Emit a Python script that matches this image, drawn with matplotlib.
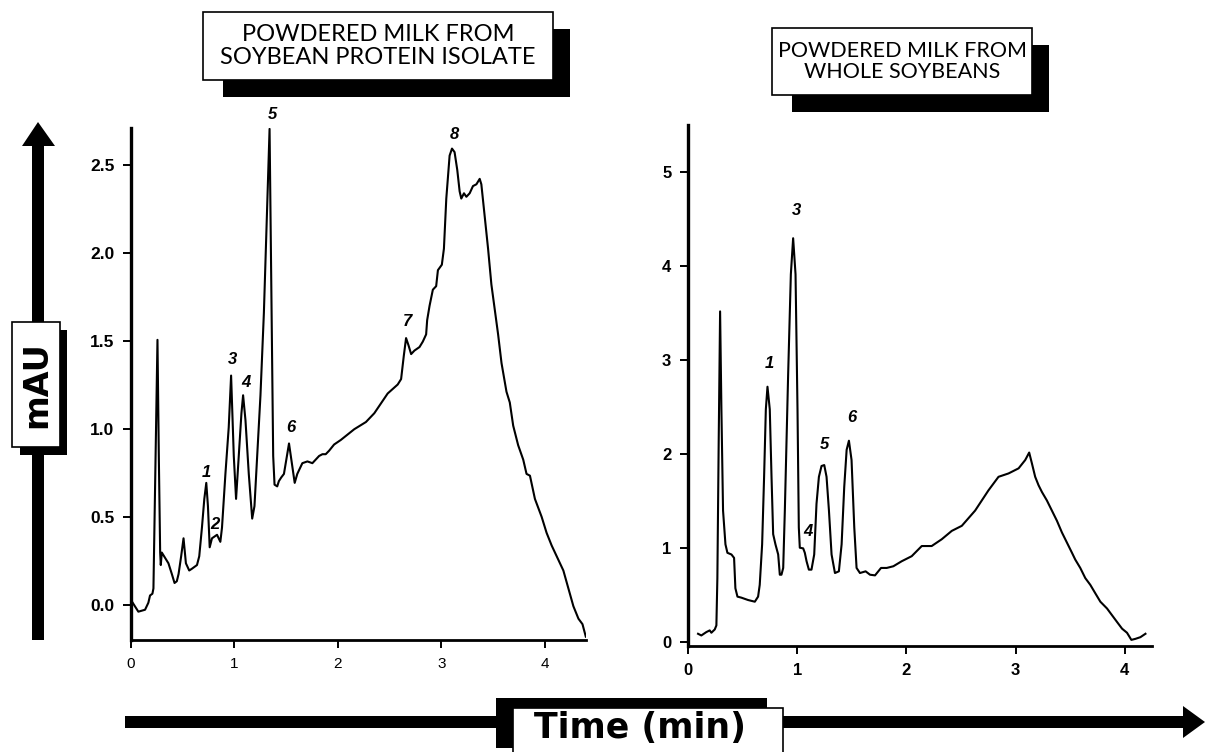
import matplotlib

matplotlib.use("Agg")
import matplotlib.pyplot as plt
from matplotlib.patches import Polygon, Rectangle

W, H = 1205, 752

# left chromatogram: powdered milk from soybean protein isolate
left_t = [0.016, 0.071, 0.136, 0.168, 0.184, 0.207, 0.217, 0.256, 0.269, 0.282, 0.288, 0.298,
          0.330, 0.362, 0.395, 0.421, 0.443, 0.460, 0.485, 0.508, 0.531, 0.563, 0.589, 0.638,
          0.660, 0.686, 0.709, 0.728, 0.744, 0.761, 0.783, 0.832, 0.864, 0.880, 0.913, 0.945,
          0.968, 0.994, 1.016, 1.042, 1.068, 1.084, 1.107, 1.139, 1.172, 1.194, 1.220, 1.252,
          1.285, 1.317, 1.340, 1.356, 1.375, 1.388, 1.414, 1.430, 1.453, 1.479, 1.502, 1.528,
          1.560, 1.583, 1.608, 1.657, 1.706, 1.754, 1.786, 1.819, 1.851, 1.883, 1.916, 1.964,
          2.029, 2.159, 2.272, 2.353, 2.482, 2.579, 2.612, 2.638, 2.660, 2.683, 2.709, 2.741,
          2.790, 2.822, 2.854, 2.864, 2.887, 2.919, 2.951, 2.968, 3.006, 3.026, 3.049, 3.081,
          3.104, 3.129, 3.155, 3.178, 3.194, 3.220, 3.243, 3.275, 3.307, 3.340, 3.372, 3.388,
          3.421, 3.453, 3.485, 3.518, 3.550, 3.583, 3.631, 3.663, 3.696, 3.744, 3.793, 3.825,
          3.858, 3.906, 3.971, 4.019, 4.068, 4.133, 4.181, 4.230, 4.278, 4.327, 4.366, 4.398]
left_y = [0.012, -0.039, -0.028, 0.012, 0.053, 0.063, 0.093, 1.506, 0.846, 0.297, 0.226, 0.297,
          0.266, 0.236, 0.175, 0.124, 0.134, 0.175, 0.276, 0.378, 0.236, 0.195, 0.205, 0.226,
          0.276, 0.439, 0.602, 0.693, 0.561, 0.327, 0.378, 0.398, 0.358, 0.439, 0.744, 1.008,
          1.303, 0.846, 0.602, 0.846, 1.089, 1.191, 1.049, 0.744, 0.490, 0.561, 0.846, 1.191,
          1.659, 2.268, 2.705, 1.862, 0.846, 0.683, 0.673, 0.703, 0.724, 0.744, 0.825, 0.917,
          0.785, 0.693, 0.744, 0.805, 0.815, 0.805, 0.825, 0.846, 0.856, 0.856, 0.876, 0.911,
          0.937, 0.998, 1.039, 1.089, 1.201, 1.252, 1.283, 1.415, 1.516, 1.476, 1.425, 1.445,
          1.465, 1.496, 1.537, 1.618, 1.699, 1.791, 1.811, 1.902, 1.933, 2.024, 2.309, 2.553,
          2.593, 2.573, 2.472, 2.350, 2.309, 2.339, 2.319, 2.339, 2.380, 2.390, 2.421, 2.390,
          2.207, 2.024, 1.821, 1.679, 1.537, 1.374, 1.211, 1.150, 1.018, 0.907, 0.825, 0.744,
          0.734, 0.602, 0.500, 0.409, 0.337, 0.256, 0.195, 0.093, -0.008, -0.079, -0.110, -0.181]
left_peaks = ["1", "2", "3", "4", "5", "6", "7", "8"]
left_peak_t = [0.728, 0.816, 0.977, 1.107, 1.366, 1.544, 2.676, 3.129]
left_peak_y = [0.754, 0.459, 1.394, 1.262, 2.787, 1.008, 1.608, 2.675]
left_yticks = [0.0, 0.5, 1.0, 1.5, 2.0, 2.5]

# right chromatogram: powdered milk from whole soybeans
right_t = [0.092, 0.122, 0.168, 0.199, 0.214, 0.245, 0.260, 0.269, 0.281, 0.294, 0.306, 0.321,
           0.343, 0.361, 0.398, 0.422, 0.434, 0.453, 0.489, 0.550, 0.612, 0.642, 0.657, 0.679,
           0.697, 0.713, 0.728, 0.749, 0.765, 0.780, 0.801, 0.826, 0.841, 0.856, 0.872, 0.887,
           0.917, 0.942, 0.963, 0.985, 1.003, 1.015, 1.024, 1.055, 1.070, 1.086, 1.107, 1.131,
           1.156, 1.177, 1.199, 1.223, 1.248, 1.269, 1.291, 1.315, 1.346, 1.382, 1.407, 1.431,
           1.453, 1.474, 1.498, 1.523, 1.544, 1.575, 1.627, 1.667, 1.713, 1.743, 1.768, 1.820,
           1.881, 1.957, 2.049, 2.141, 2.232, 2.324, 2.416, 2.508, 2.630, 2.752, 2.844, 2.936,
           3.028, 3.089, 3.125, 3.150, 3.180, 3.211, 3.242, 3.287, 3.333, 3.379, 3.425, 3.471,
           3.517, 3.547, 3.593, 3.639, 3.685, 3.731, 3.777, 3.838, 3.884, 3.930, 3.976, 4.021,
           4.061, 4.098, 4.144, 4.190]
right_y = [0.090, 0.072, 0.108, 0.126, 0.101, 0.136, 0.179, 0.682, 2.118, 3.518, 2.477, 1.400,
           1.041, 0.951, 0.933, 0.897, 0.574, 0.485, 0.474, 0.449, 0.431, 0.485, 0.610, 1.041,
           1.759, 2.477, 2.717, 2.477, 1.759, 1.149, 1.041, 0.933, 0.718, 0.718, 0.790, 1.400,
           2.836, 3.912, 4.296, 3.912, 2.477, 1.220, 1.005, 0.998, 0.951, 0.861, 0.772, 0.772,
           0.933, 1.472, 1.759, 1.874, 1.884, 1.759, 1.400, 0.933, 0.736, 0.754, 1.041, 1.651,
           2.046, 2.143, 1.938, 1.220, 0.790, 0.736, 0.754, 0.718, 0.711, 0.754, 0.790, 0.790,
           0.808, 0.861, 0.915, 1.023, 1.023, 1.095, 1.184, 1.238, 1.400, 1.615, 1.759, 1.795,
           1.849, 1.938, 2.017, 1.902, 1.759, 1.669, 1.597, 1.508, 1.400, 1.292, 1.167, 1.059,
           0.951, 0.879, 0.790, 0.682, 0.610, 0.520, 0.431, 0.359, 0.287, 0.215, 0.144, 0.101,
           0.025, 0.036, 0.054, 0.090]
right_peaks = ["1", "3", "4", "5", "6"]
right_peak_t = [0.749, 0.994, 1.100, 1.254, 1.498]
right_peak_y = [2.960, 4.590, 1.180, 2.100, 2.390]
right_yticks = [0, 1, 2, 3, 4, 5]

xticks = [0, 1, 2, 3, 4]
titles = ["POWDERED MILK FROM\nSOYBEAN PROTEIN ISOLATE", "POWDERED MILK FROM\nWHOLE SOYBEANS"]


def fig_xy(x, y):
    """pixel position (top-left origin) -> figure fraction"""
    return x / W, 1 - y / H


def add_rect(fig, x0, y0, x1, y1, face, edge="none", lw=0.0, z=1):
    fx0, fy1 = fig_xy(x0, y1)
    fx1, fy0 = fig_xy(x1, y0)
    fig.add_artist(Rectangle((fx0, fy1), fx1 - fx0, fy0 - fy1, transform=fig.transFigure,
                             facecolor=face, edgecolor=edge, linewidth=lw, zorder=z))


def add_poly(fig, pts, z=1):
    fig.add_artist(Polygon([fig_xy(x, y) for x, y in pts], closed=True, transform=fig.transFigure,
                           facecolor="black", edgecolor="none", zorder=z))


def style_axes(ax, xmax, ylim, yticks, yfmt, xsize, xweight, ysize):
    ax.set_xlim(0, xmax)
    ax.set_ylim(*ylim)
    for s in ("top", "right"):
        ax.spines[s].set_visible(False)
    ax.spines["left"].set_linewidth(2.4)
    ax.spines["bottom"].set_linewidth(2.0)
    ax.set_xticks(xticks)
    ax.set_yticks(yticks)
    ax.set_yticklabels([yfmt.format(v) for v in yticks])
    ax.tick_params(direction="out", length=6, width=1.4, pad=6)
    for lab in ax.get_xticklabels():
        lab.set_fontsize(xsize)
        lab.set_fontweight(xweight)
        lab.set_family("Liberation Sans")
    for lab in ax.get_yticklabels():
        lab.set_fontsize(ysize)
        lab.set_fontweight("bold")
        lab.set_family("Liberation Sans")
    ax.patch.set_alpha(0)


fig = plt.figure(figsize=(W / 100, H / 100), dpi=100)

ax1 = fig.add_axes([131 / W, 1 - 640 / H, 455 / W, 512 / H])
ax1.plot(left_t, left_y, color="black", lw=1.5)
style_axes(ax1, 4.4, (-0.2, 2.71), left_yticks, "{:.1f}", 11, "normal", 12.5)
for lab, t, y in zip(left_peaks, left_peak_t, left_peak_y):
    ax1.text(t, y, lab, ha="center", va="center", fontsize=12, style="italic",
             fontweight="bold", family="Liberation Sans", clip_on=False)

ax2 = fig.add_axes([688 / W, 1 - 646 / H, 464 / W, 521 / H])
ax2.plot(right_t, right_y, color="black", lw=1.5)
style_axes(ax2, 4.25, (-0.04, 5.5), right_yticks, "{:d}", 12, "bold", 12)
for lab, t, y in zip(right_peaks, right_peak_t, right_peak_y):
    ax2.text(t, y, lab, ha="center", va="center", fontsize=12, style="italic",
             fontweight="bold", family="Liberation Sans", clip_on=False)

# title boxes with drop shadows
title_boxes = [(203, 12, 553, 80), (772, 28, 1032, 95)]
title_sizes = [17, 15.5]
for (x0, y0, x1, y1), text, size in zip(title_boxes, titles, title_sizes):
    add_rect(fig, x0 + 20, y0 + 17, x1 + 17, y1 + 17, "black", z=2)
    add_rect(fig, x0, y0, x1, y1, "white", "black", 1.2, z=3)
    cx, cy = fig_xy((x0 + x1) / 2, (y0 + y1) / 2)
    fig.text(cx, cy, text, ha="center", va="center", fontsize=size, family="Lato",
             linespacing=1.1, zorder=4)

# vertical mAU arrow
add_rect(fig, 32, 140, 44, 640, "black", z=2)
add_poly(fig, [(22, 146), (55, 146), (38, 122)], z=2)
add_rect(fig, 20, 330, 67, 455, "black", z=3)
add_rect(fig, 12, 322, 60, 447, "white", "black", 1.2, z=4)
mx, my = fig_xy(37, 385)
fig.text(mx, my, "mAU", rotation=90, ha="center", va="center", fontsize=24,
         fontweight="bold", family="DejaVu Sans", zorder=5)

# horizontal time arrow
add_rect(fig, 125, 716, 1186, 728, "black", z=2)
add_poly(fig, [(1183, 706), (1183, 738), (1205, 722)], z=2)
add_rect(fig, 496, 698, 767, 748, "black", z=3)
add_rect(fig, 513, 708, 783, 760, "white", "black", 1.2, z=4)
tx, ty = fig_xy(640, 728)
fig.text(tx, ty, "Time (min)", ha="center", va="center", fontsize=25,
         fontweight="bold", family="DejaVu Sans", zorder=5)

fig.savefig("out.png", dpi=100)
